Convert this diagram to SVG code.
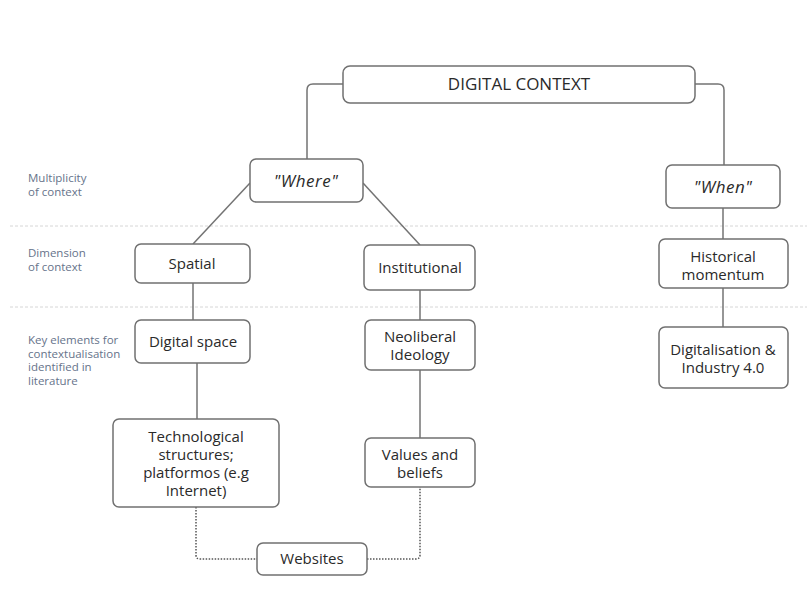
<svg xmlns="http://www.w3.org/2000/svg" width="807" height="608" viewBox="0 0 807 608">
  <style>
    .box { fill: #ffffff; stroke: #707070; stroke-width: 1.5; }
    .t { font-family: "Open Sans", "Liberation Sans", sans-serif; font-size: 15px; fill: #2a2a2a; text-anchor: middle; }
    .title { font-size: 17px; }
    .it { font-style: italic; font-size: 17px; letter-spacing: 0.5px; }
    .lbl { font-family: "Open Sans", "Liberation Sans", sans-serif; font-size: 11.5px; fill: #66738a; }
    .sep { stroke: #d6d6d6; stroke-width: 1; stroke-dasharray: 3 2; fill: none; }
    .link { stroke: #737373; stroke-width: 1.5; fill: none; }
    .dot { stroke: #555555; stroke-width: 1.5; fill: none; stroke-dasharray: 1.5 1.5; }
  </style>

  <rect width="807" height="608" fill="#ffffff"/>

  <!-- level separators -->
  <g id="separators">
    <line class="sep" x1="10" y1="226" x2="807" y2="226"/>
    <line class="sep" x1="10" y1="307" x2="807" y2="307"/>
  </g>

  <!-- level labels -->
  <g id="labels">
    <text class="lbl" x="28" y="182">Multiplicity</text>
    <text class="lbl" x="28" y="196">of context</text>
    <text class="lbl" x="28" y="257">Dimension</text>
    <text class="lbl" x="28" y="271">of context</text>
    <text class="lbl" x="28" y="344">Key elements for</text>
    <text class="lbl" x="28" y="358">contextualisation</text>
    <text class="lbl" x="28" y="371">identified in</text>
    <text class="lbl" x="28" y="385">literature</text>
  </g>

  <!-- connectors -->
  <g id="connectors">
    <path class="link" d="M343 84 H313 Q307 84 307 90 V159"/>
    <path class="link" d="M695 84 H718 Q724 84 724 90 V165"/>
    <line class="link" x1="250" y1="183" x2="193" y2="244"/>
    <line class="link" x1="363" y1="183" x2="420" y2="245"/>
    <line class="link" x1="193" y1="283" x2="193" y2="320"/>
    <line class="link" x1="197" y1="363" x2="197" y2="419"/>
    <line class="link" x1="420" y1="290" x2="420" y2="320"/>
    <line class="link" x1="420" y1="370" x2="420" y2="438"/>
    <line class="link" x1="723" y1="208" x2="723" y2="239"/>
    <line class="link" x1="723" y1="288" x2="723" y2="327"/>
    <path class="dot" d="M196 507 V555 Q196 559 200 559 H257"/>
    <path class="dot" d="M367 559 H416 Q420 559 420 555 V487"/>
  </g>

  <!-- nodes -->
  <g id="digital-context">
    <rect class="box" x="343" y="66" width="352" height="37" rx="7"/>
    <text class="t title" x="519" y="90">DIGITAL CONTEXT</text>
  </g>
  <g id="where">
    <rect class="box" x="250" y="159" width="113" height="43" rx="6"/>
    <text class="t it" x="306" y="187">"Where"</text>
  </g>
  <g id="when">
    <rect class="box" x="666" y="165" width="114" height="43" rx="6"/>
    <text class="t it" x="723" y="193">"When"</text>
  </g>
  <g id="spatial">
    <rect class="box" x="135" y="244" width="115" height="39" rx="6"/>
    <text class="t" x="192" y="269">Spatial</text>
  </g>
  <g id="institutional">
    <rect class="box" x="364" y="245" width="111" height="45" rx="6"/>
    <text class="t" x="420" y="273">Institutional</text>
  </g>
  <g id="historical">
    <rect class="box" x="659" y="239" width="129" height="49" rx="6"/>
    <text class="t" x="723" y="262">Historical</text>
    <text class="t" x="723" y="280">momentum</text>
  </g>
  <g id="digital-space">
    <rect class="box" x="135" y="320" width="115" height="43" rx="6"/>
    <text class="t" x="193" y="347">Digital space</text>
  </g>
  <g id="neoliberal">
    <rect class="box" x="365" y="320" width="110" height="50" rx="6"/>
    <text class="t" x="420" y="342">Neoliberal</text>
    <text class="t" x="420" y="360">Ideology</text>
  </g>
  <g id="digitalisation">
    <rect class="box" x="659" y="327" width="129" height="61" rx="6"/>
    <text class="t" x="723" y="355">Digitalisation &amp;</text>
    <text class="t" x="723" y="373">Industry 4.0</text>
  </g>
  <g id="technological">
    <rect class="box" x="113" y="419" width="166" height="88" rx="6"/>
    <text class="t" x="196" y="442">Technological</text>
    <text class="t" x="196" y="460">structures;</text>
    <text class="t" x="196" y="478">platformos (e.g</text>
    <text class="t" x="196" y="496">Internet)</text>
  </g>
  <g id="values">
    <rect class="box" x="365" y="438" width="110" height="49" rx="6"/>
    <text class="t" x="420" y="460">Values and</text>
    <text class="t" x="420" y="478">beliefs</text>
  </g>
  <g id="websites">
    <rect class="box" x="257" y="543" width="110" height="32" rx="6"/>
    <text class="t" x="312" y="564">Websites</text>
  </g>
</svg>
